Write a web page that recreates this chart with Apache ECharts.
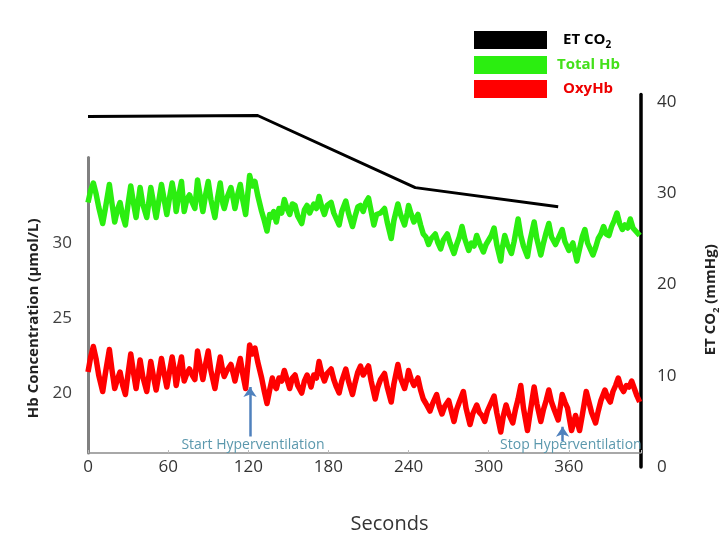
<!DOCTYPE html>
<html>
<head>
<meta charset="utf-8">
<script src="https://cdn.jsdelivr.net/npm/echarts/dist/echarts.min.js"></script>
<style>
html,body{margin:0;padding:0;background:#fff;}
#chart{width:727px;height:542px;}
</style>
</head>
<body>
<div id="chart"></div>
<script>
// ---- data (seconds, value) ----
const xTicks = [0, 60, 120, 180, 240, 300, 360];
const leftTickLabels = [20, 25, 30];
const rightTickLabels = [0, 10, 20, 30, 40];

const etCO2 = [[0, 38.4], [127, 38.5], [245, 30.6], [352, 28.5]];

const totalHb = [[0,32.7],[2,33.5],[4,34.0],[6,33.3],[8,32.4],[11,31.3],[13,32.3],[16,33.9],[18,32.6],[20,31.4],[22,32.2],[24,32.7],[26,31.8],[28,31.2],[30,32.6],[32,33.8],[34,32.7],[36,31.7],[39,33.7],[41,32.6],[44,31.7],[47,33.7],[49,32.7],[51,31.7],[53,32.8],[55,33.9],[57,32.9],[59,31.9],[61,33.0],[63,34.0],[65,33.0],[66,32.1],[68,33.2],[70,34.1],[72,32.1],[74,32.9],[76,33.2],[78,32.7],[80,32.3],[82,34.2],[84,33.1],[86,32.1],[88,33.2],[90,34.1],[92,32.9],[95,31.7],[97,33.0],[99,34.0],[101,32.6],[102,32.3],[104,33.0],[107,33.7],[109,32.8],[110,32.3],[112,33.2],[114,33.9],[116,32.8],[118,31.9],[120,33.6],[121,34.5],[123,33.8],[125,34.1],[127,33.2],[130,32.1],[132,31.5],[134,30.8],[136,31.9],[137,31.7],[139,32.1],[141,31.4],[143,32.3],[145,32.0],[147,32.9],[149,32.3],[151,31.9],[153,32.6],[155,32.5],[157,31.8],[160,31.3],[162,32.2],[164,32.5],[166,32.0],[167,31.9],[169,32.6],[171,32.3],[173,33.1],[175,32.4],[177,31.9],[179,32.5],[182,32.7],[184,32.0],[186,31.6],[188,31.2],[190,32.1],[193,32.8],[195,32.0],[198,31.1],[200,31.8],[202,32.4],[204,32.5],[206,32.1],[208,32.7],[210,33.0],[212,32.1],[214,31.2],[216,31.9],[219,32.0],[222,32.3],[224,31.4],[227,30.3],[229,31.5],[232,32.6],[234,31.9],[237,31.2],[239,32.0],[240,32.5],[242,31.9],[244,31.4],[247,31.9],[249,31.2],[251,30.6],[253,30.4],[255,29.9],[257,30.3],[260,30.6],[262,30.0],[264,29.6],[266,30.2],[269,30.6],[271,30.0],[274,29.3],[276,29.9],[278,30.4],[280,31.1],[282,30.3],[285,29.5],[287,30.0],[289,29.8],[291,30.5],[293,30.0],[296,29.4],[298,29.9],[300,30.2],[302,30.5],[304,31.0],[306,29.9],[309,28.8],[310,29.6],[312,30.5],[314,29.9],[317,29.3],[319,30.1],[320,30.6],[322,31.6],[324,30.5],[326,29.8],[329,29.1],[331,30.2],[334,31.4],[336,30.3],[339,29.2],[341,30.0],[343,30.7],[345,31.3],[347,30.4],[350,29.9],[352,30.3],[355,30.9],[357,30.1],[360,29.5],[363,30.0],[366,28.8],[368,29.6],[370,30.4],[372,30.9],[374,30.0],[376,29.6],[378,29.2],[380,29.7],[382,30.3],[384,30.6],[386,31.1],[388,30.6],[390,30.5],[392,31.1],[394,31.5],[396,32.0],[398,31.3],[400,30.9],[402,31.2],[404,31.0],[406,31.6],[408,31.0],[410,30.8],[413,30.5]];

const oxyHb = [[0,21.4],[2,22.4],[4,23.1],[6,22.3],[8,21.2],[11,20.1],[13,21.3],[16,22.9],[18,21.5],[20,20.3],[22,20.9],[24,21.4],[26,20.5],[28,19.9],[30,21.3],[32,22.6],[34,21.4],[36,20.3],[39,22.2],[41,21.1],[44,20.1],[47,22.1],[49,21.1],[51,20.2],[53,21.2],[55,22.3],[57,21.3],[59,20.4],[61,21.4],[63,22.4],[65,21.3],[66,20.5],[68,21.5],[70,22.4],[72,20.8],[74,21.3],[76,21.6],[78,21.2],[80,20.9],[82,22.8],[84,21.8],[86,20.9],[88,21.9],[90,22.8],[92,21.5],[95,20.3],[97,21.4],[99,22.4],[101,21.4],[102,21.1],[104,21.5],[107,21.9],[109,21.2],[110,20.8],[112,21.6],[114,22.3],[116,21.2],[118,20.3],[120,22.2],[121,23.2],[123,22.6],[125,23.0],[127,22.1],[130,21.0],[132,20.1],[134,19.3],[136,20.2],[138,21.0],[139,20.6],[141,20.3],[143,21.0],[145,20.8],[147,21.5],[149,20.9],[151,20.3],[153,21.0],[155,21.2],[157,20.5],[160,20.0],[162,20.8],[164,21.2],[166,20.7],[167,20.4],[169,21.2],[171,21.0],[173,22.1],[175,21.3],[177,20.8],[179,21.3],[182,21.6],[184,20.9],[186,20.4],[188,20.0],[190,20.8],[193,21.6],[195,20.8],[198,19.9],[200,20.7],[202,21.4],[204,21.8],[206,21.2],[208,21.5],[210,21.8],[212,20.8],[215,19.6],[217,20.4],[219,20.9],[222,21.3],[224,20.4],[227,19.4],[229,20.6],[232,21.9],[234,21.0],[237,20.3],[239,21.0],[240,21.5],[242,20.9],[244,20.5],[247,21.0],[249,20.2],[251,19.6],[253,19.3],[256,18.8],[258,19.3],[261,19.9],[263,19.1],[265,18.6],[267,19.1],[270,19.5],[272,18.8],[274,18.1],[276,18.9],[278,19.4],[281,20.1],[283,19.0],[286,17.9],[288,18.6],[291,19.2],[293,18.7],[295,18.5],[297,18.1],[299,18.8],[301,19.2],[304,19.8],[306,18.7],[309,17.4],[311,18.5],[313,19.2],[315,18.6],[318,18.0],[320,18.9],[322,19.6],[324,20.5],[326,19.0],[329,17.5],[331,18.7],[334,20.4],[336,19.3],[339,18.1],[341,18.9],[343,19.5],[345,20.2],[347,19.4],[349,18.9],[352,18.2],[354,19.3],[355,19.9],[357,19.4],[359,19.0],[362,17.5],[365,18.5],[368,17.5],[370,18.5],[373,20.1],[375,19.4],[377,18.7],[380,18.0],[382,18.8],[384,19.5],[387,20.2],[389,19.7],[391,19.4],[393,20.1],[395,20.5],[397,21.0],[399,20.4],[401,20.1],[403,20.5],[405,20.4],[407,20.8],[409,20.3],[411,19.8],[413,19.4]];

// annotations: arrows (start/end in seconds, Hb units) and their captions
const arrowLines = [[[121.3, 17.1], [121.3, 20.4]], [[355.3, 16.8], [355.3, 17.75]]];
const annotationTexts = ['Start Hyperventilation', 'Stop Hyperventilation'];
const annotationCoords = [[123.5, 16.5], [361.5, 16.5]];

const FONT = '"Open Sans", "DejaVu Sans", sans-serif';
const GREEN = '#2bee10';
const RED = '#ff0000';

const chart = echarts.init(document.getElementById('chart'));
chart.setOption({
  animation: false,
  backgroundColor: '#fff',
  textStyle: { fontFamily: FONT },
  legend: {
    orient: 'vertical',
    left: 474, top: 31, padding: 0,
    itemWidth: 73, itemHeight: 18, itemGap: 6,
    icon: 'rect',
    selectedMode: false,
    data: ['ET CO2', 'Total Hb', 'OxyHb'],
    formatter: function (n) {
      if (n === 'ET CO2') return '{k|ET CO}{ks|2}';
      if (n === 'Total Hb') return '{g|Total Hb}';
      return '{r|OxyHb}';
    },
    textStyle: {
      fontFamily: FONT,
      rich: {
        k: { color: '#000', fontWeight: 'bold', fontSize: 15, padding: [0, 0, 0, 11], lineHeight: 20, fontFamily: FONT },
        ks: { color: '#000', fontWeight: 'bold', fontSize: 10, verticalAlign: 'bottom', lineHeight: 20, fontFamily: FONT },
        g: { color: '#44e01a', fontWeight: 'bold', fontSize: 15, padding: [0, 0, 0, 5], fontFamily: FONT },
        r: { color: '#ee0000', fontWeight: 'bold', fontSize: 15, padding: [0, 0, 0, 11], fontFamily: FONT }
      }
    }
  },
  grid: [
    { left: 88, right: 86, top: 157.5, bottom: 89, outerBoundsMode: 'none', containLabel: false },
    { left: 88, right: 86, top: 94.5, bottom: 75, outerBoundsMode: 'none', containLabel: false }
  ],
  xAxis: [
    {
      gridIndex: 0, type: 'value', min: 0, max: 414, interval: 60,
      name: 'Seconds', nameLocation: 'middle', nameGap: 61,
      nameTextStyle: { fontSize: 20, color: '#333', fontFamily: FONT, padding: [0, 0, 0, 50] },
      axisLine: { show: true, onZero: false, lineStyle: { color: '#8c8c8c', width: 1.5 } },
      axisTick: { show: true, length: 3, inside: true, lineStyle: { color: '#bbb' } },
      axisLabel: { fontSize: 17, color: '#333', margin: 6, fontFamily: FONT,
        formatter: v => xTicks.includes(v) ? String(v) : '' },
      splitLine: { show: false }
    },
    { gridIndex: 1, type: 'value', min: 0, max: 414, show: false }
  ],
  yAxis: [
    {
      gridIndex: 0, type: 'value', min: 16, max: 35.7, interval: 1, position: 'left',
      name: 'Hb Concentration (µmol/L)', nameLocation: 'middle', nameGap: 46, nameRotate: 90,
      nameTextStyle: { fontSize: 15, fontWeight: 'bold', color: '#222', fontFamily: FONT, padding: [0, 26, 0, 0] },
      axisLine: { show: true, onZero: false, lineStyle: { color: '#808080', width: 3 } },
      axisTick: { show: false },
      axisLabel: { fontSize: 17, color: '#404040', margin: 16, fontFamily: FONT,
        formatter: v => leftTickLabels.includes(v) ? String(v) : '' },
      splitLine: { show: false }
    },
    {
      gridIndex: 1, type: 'value', min: 0, max: 40.8, interval: 10, position: 'right',
      name: '{b|ET CO}{s|2}{b| (mmHg)}', nameLocation: 'middle', nameGap: 60, nameRotate: 90,
      nameTextStyle: {
        padding: [0, 38, 0, 0],
        rich: {
          b: { fontSize: 15, fontWeight: 'bold', color: '#222', lineHeight: 20, fontFamily: FONT },
          s: { fontSize: 9, fontWeight: 'bold', color: '#222', verticalAlign: 'bottom', lineHeight: 20, fontFamily: FONT }
        }
      },
      axisLine: { show: true, onZero: false, lineStyle: { color: '#000', width: 3.5 } },
      axisTick: { show: false },
      axisLabel: { fontSize: 17, color: '#333', margin: 16, fontFamily: FONT, padding: [8, 0, 0, 0],
        formatter: v => rightTickLabels.includes(v) ? String(v) : '' },
      splitLine: { show: false }
    }
  ],
  series: [
    {
      name: 'ET CO2', type: 'line', xAxisIndex: 1, yAxisIndex: 1,
      data: etCO2, symbol: 'none', color: '#000',
      lineStyle: { color: '#000', width: 3 }, z: 3
    },
    {
      name: 'Total Hb', type: 'line', xAxisIndex: 0, yAxisIndex: 0,
      data: totalHb, symbol: 'none', color: GREEN,
      lineStyle: { color: GREEN, width: 5.5, join: 'round' }, z: 2
    },
    {
      name: 'OxyHb', type: 'line', xAxisIndex: 0, yAxisIndex: 0,
      data: oxyHb, symbol: 'none', color: RED,
      lineStyle: { color: RED, width: 5.5, join: 'round' }, z: 2,
      markLine: {
        silent: true, animation: false,
        symbol: ['none', 'arrow'], symbolSize: 10,
        lineStyle: { color: '#4f81bd', width: 2.5, type: 'solid' },
        label: { show: false },
        data: arrowLines.map(p => [{ coord: p[0] }, { coord: p[1] }])
      },
      markPoint: {
        silent: true, animation: false,
        symbol: 'rect', symbolSize: 1,
        itemStyle: { color: 'rgba(0,0,0,0)' },
        label: { show: true, position: 'inside', color: '#5b98ad', fontSize: 14, fontFamily: FONT },
        data: annotationCoords.map((c, i) => ({ coord: c, value: annotationTexts[i],
          label: { formatter: annotationTexts[i] } }))
      }
    }
  ]
});
</script>
</body>
</html>
